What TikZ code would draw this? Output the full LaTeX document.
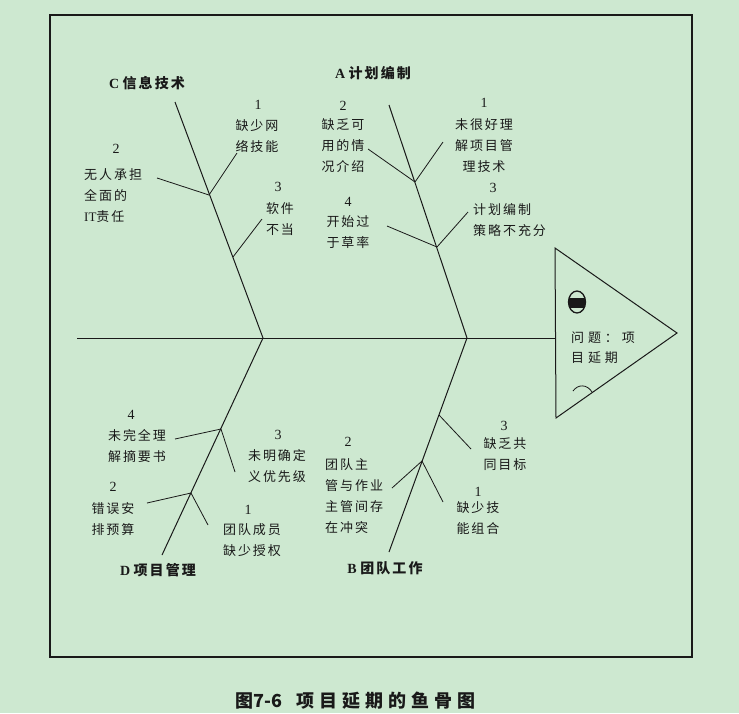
\documentclass[tikz,border=0pt]{standalone}
\usepackage{fontspec}
\setmainfont{Liberation Serif}
\newfontfamily\cjk[LetterSpace=15]{Noto Sans CJK SC}
\newfontfamily\cjkhead[LetterSpace=30]{Noto Sans CJK SC}
\newfontfamily\cjkcap[LetterSpace=28]{Noto Sans CJK SC}
\newfontfamily\cjktight{Noto Sans CJK SC}
\usepackage{xcolor}
\definecolor{paper}{RGB}{205,232,208}
\definecolor{ink}{RGB}{25,25,25}
\newcommand{\zh}[1]{{\cjk #1}}
\newcommand{\zhb}[1]{{\cjk\bfseries #1}}
\tikzset{
    bone/.style={draw=ink, line width=1pt},
    twig/.style={draw=ink, line width=0.8pt},
    num/.style={inner sep=0pt, text=ink, font=\fontsize{14}{14}\selectfont},
    cause/.style={inner sep=0pt, text=ink, align=center, font=\cjk\fontsize{13}{21}\selectfont},
    causeleft/.style={cause, align=left, anchor=west},
    title/.style={inner sep=0pt, text=ink, font=\bfseries\fontsize{14}{14}\selectfont}
}

\begin{document}
\begin{tikzpicture}[x=1pt, y=-1pt]
    \fill[paper] (0,0) rectangle (739,713);
    \useasboundingbox (0,0) rectangle (739,713);
    \draw[ink, line width=1.2pt] (50,15) rectangle (692,657);

    % spine and head
    \coordinate (tail) at (77,338);
    \coordinate (head) at (555,338);
    \coordinate (tri-top) at (555,248);
    \coordinate (tri-tip) at (677,333);
    \coordinate (tri-bot) at (556,418);
    \draw[bone] (tail) -- (head);
    \draw[bone] (tri-top) -- (tri-tip) -- (tri-bot) -- cycle;
    \draw[ink, line width=1.3pt] (577,302) ellipse (8.5 and 11);
    \begin{scope}
        \clip (577,302) ellipse (8.5 and 11);
        \fill[ink] (566,298) rectangle (590,308);
    \end{scope}
    \draw[ink, line width=0.8pt] (573,391) .. controls (578,384) and (587,384) .. (592,392);
    \node[cause, anchor=west, font=\cjkhead\fontsize{13}{20}\selectfont, align=left] (problem) at (571,348) {问题：项\\目延期};

    % bones
    \coordinate (jC) at (263,338);
    \coordinate (jA) at (467,338);
    \coordinate (C-end) at (175,102);
    \coordinate (A-end) at (389,105);
    \coordinate (D-end) at (162,555);
    \coordinate (B-end) at (389,552);
    \draw[bone] (jC) -- (C-end);
    \draw[bone] (jA) -- (A-end);
    \draw[bone] (jC) -- (D-end);
    \draw[bone] (jA) -- (B-end);

    % C twigs
    \coordinate (c12) at (209,195);
    \coordinate (c3) at (233,257);
    \draw[twig] (c12) -- (237,153) coordinate (c1-end);
    \draw[twig] (c12) -- (157,178) coordinate (c2-end);
    \draw[twig] (c3) -- (262,219) coordinate (c3-end);

    % A twigs
    \coordinate (a12) at (415,182);
    \coordinate (a34) at (437,247);
    \draw[twig] (a12) -- (443,142) coordinate (a1-end);
    \draw[twig] (a12) -- (368,149) coordinate (a2-end);
    \draw[twig] (a34) -- (468,212) coordinate (a3-end);
    \draw[twig] (a34) -- (387,226) coordinate (a4-end);

    % D twigs
    \coordinate (d34) at (221,429);
    \coordinate (d12) at (191,493);
    \draw[twig] (d34) -- (175,439) coordinate (d4-end);
    \draw[twig] (d34) -- (235,472) coordinate (d3-end);
    \draw[twig] (d12) -- (147,503) coordinate (d2-end);
    \draw[twig] (d12) -- (208,525) coordinate (d1-end);

    % B twigs
    \coordinate (b3) at (439,415);
    \coordinate (b12) at (422,461);
    \draw[twig] (b3) -- (471,449) coordinate (b3-end);
    \draw[twig] (b12) -- (392,488) coordinate (b2-end);
    \draw[twig] (b12) -- (443,502) coordinate (b1-end);

    % titles
    \node[title] (C-title) at (147,83) {C\ \zhb{信息技术}};
    \node[title] (A-title) at (373,73) {A\ \zhb{计划编制}};
    \node[title] (D-title) at (158,570) {D\ \zhb{项目管理}};
    \node[title] (B-title) at (385,568) {B\ \zhb{团队工作}};

    % C causes
    \node[num] (c1-num) at (258,105) {1};
    \node[cause] (c1-text) at (257,136) {缺少网\\络技能};
    \node[num] (c2-num) at (116,149) {2};
    \node[causeleft] (c2-text) at (84,196) {无人承担\\全面的\\{\rmfamily IT}责任};
    \node[num] (c3-num) at (278,187) {3};
    \node[cause] (c3-text) at (280,219) {软件\\不当};

    % A causes
    \node[num] (a1-num) at (484,103) {1};
    \node[cause] (a1-text) at (484,146) {未很好理\\解项目管\\理技术};
    \node[num] (a2-num) at (343,106) {2};
    \node[cause] (a2-text) at (343,146) {缺乏可\\用的情\\况介绍};
    \node[num] (a3-num) at (493,188) {3};
    \node[causeleft] (a3-text) at (473,220) {计划编制\\策略不充分};
    \node[num] (a4-num) at (348,202) {4};
    \node[cause] (a4-text) at (348,232) {开始过\\于草率};

    % D causes
    \node[num] (d4-num) at (131,415) {4};
    \node[cause] (d4-text) at (137,446) {未完全理\\解摘要书};
    \node[num] (d3-num) at (278,435) {3};
    \node[cause] (d3-text) at (277,466) {未明确定\\义优先级};
    \node[num] (d2-num) at (113,487) {2};
    \node[cause] (d2-text) at (113,519) {错误安\\排预算};
    \node[num] (d1-num) at (248,510) {1};
    \node[cause] (d1-text) at (252,540) {团队成员\\缺少授权};

    % B causes
    \node[num] (b3-num) at (504,426) {3};
    \node[cause] (b3-text) at (505,454) {缺乏共\\同目标};
    \node[num] (b2-num) at (348,442) {2};
    \node[causeleft] (b2-text) at (325,496) {团队主\\管与作业\\主管间存\\在冲突};
    \node[num] (b1-num) at (478,492) {1};
    \node[cause] (b1-text) at (478,518) {缺少技\\能组合};

    % caption
    \node[inner sep=0pt, anchor=west, text=ink, font=\bfseries\fontsize{18}{18}\selectfont] (caption) at (235,701)
        {{\cjktight 图7-6}\hspace{14pt}{\cjkcap 项目延期的鱼骨图}};
\end{tikzpicture}
\end{document}
